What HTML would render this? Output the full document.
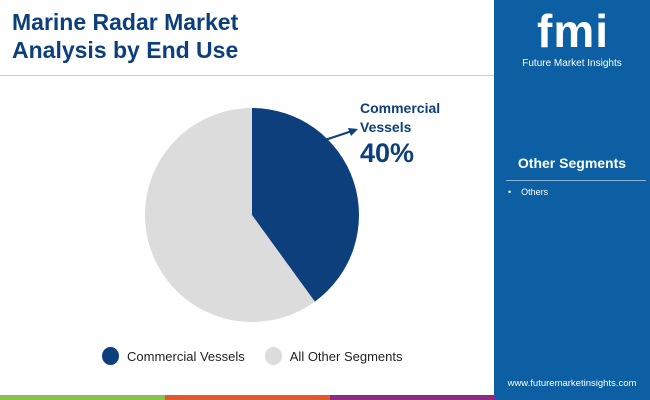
<!DOCTYPE html>
<html><head><meta charset="utf-8"><style>
body{margin:0;width:650px;height:400px;overflow:hidden;background:#fff;font-family:"Liberation Sans",sans-serif;position:relative}
.abs{position:absolute}
</style></head><body>
<div class="abs" style="left:12px;top:8px;font-size:23px;font-weight:bold;color:#0c3f7c;line-height:28px">Marine Radar Market<br>Analysis by End Use</div>
<div class="abs" style="left:0;top:75px;width:494px;height:1px;background:#ccc"></div>
<svg class="abs" style="left:0;top:0" width="494" height="395" id="pie">
<text x="360" y="113" font-size="14" font-weight="bold" fill="#0c3f7c" font-family="Liberation Sans">Commercial</text>
<text x="360" y="132" font-size="14" font-weight="bold" fill="#0c3f7c" font-family="Liberation Sans">Vessels</text>
<text x="360" y="162" font-size="27" font-weight="bold" fill="#0c3f7c" font-family="Liberation Sans" id="pct">40%</text>
<line x1="322" y1="141" x2="352" y2="131" stroke="#0c3f7c" stroke-width="2"/>
<polygon points="358,129 348,128 351,136" fill="#0c3f7c"/>
</svg>
<div class="abs" style="left:102px;top:347px;font-size:13px;color:#222;display:flex;align-items:center">
<span style="width:17px;height:18px;border-radius:50%;background:#0c3f7c;display:inline-block;margin-right:8px"></span><span>Commercial Vessels</span>
<span style="width:17px;height:18px;border-radius:50%;background:#dcdcdc;display:inline-block;margin:0 8px 0 20px"></span><span>All Other Segments</span>
</div>
<div class="abs" style="left:494px;top:0;width:156px;height:400px;background:#0d5fa3">
<div style="position:absolute;left:24px;top:6px;width:110px;text-align:center;color:#fff;font-size:46px;font-weight:bold;line-height:50px;letter-spacing:1px">fmi</div>
<div style="position:absolute;left:0;top:58px;width:156px;text-align:center;color:#fff;font-size:10px">Future Market Insights</div>
<div style="position:absolute;left:0;top:155px;width:156px;text-align:center;color:#fff;font-size:14px;font-weight:bold">Other Segments</div>
<div style="position:absolute;left:12px;top:180px;width:140px;height:1px;background:#8fb3d6"></div>
<div style="position:absolute;left:14px;top:187px;color:#fff;font-size:9px">•&nbsp;&nbsp;&nbsp;&nbsp;Others</div>
<div style="position:absolute;left:0;top:378px;width:156px;text-align:center;color:#fff;font-size:9.5px">www.futuremarketinsights.com</div>
</div>
<div class="abs" style="left:0;top:395px;width:165px;height:5px;background:#8bc34a"></div>
<div class="abs" style="left:165px;top:395px;width:165px;height:5px;background:#e05a2b"></div>
<div class="abs" style="left:330px;top:395px;width:165px;height:5px;background:#8e2a85"></div>
<script>
const categories=["Commercial Vessels","All Other Segments"];
const values=[40,60];
const colors=["#0c3f7c","#dcdcdc"];
const svg=document.getElementById('pie');
const cx=252,cy=215,r=107;
const total=values.reduce((a,b)=>a+b,0);
let ang=-Math.PI/2;
values.forEach((v,i)=>{
 const a2=ang+v/total*2*Math.PI;
 const x1=cx+r*Math.cos(ang),y1=cy+r*Math.sin(ang),x2=cx+r*Math.cos(a2),y2=cy+r*Math.sin(a2);
 const large=(a2-ang)>Math.PI?1:0;
 const p=document.createElementNS("http://www.w3.org/2000/svg","path");
 p.setAttribute("d",`M${cx},${cy}L${x1},${y1}A${r},${r} 0 ${large} 1 ${x2},${y2}Z`);
 p.setAttribute("fill",colors[i]);
 
 
 svg.insertBefore(p,svg.firstChild);
 ang=a2;
});
document.getElementById('pct').textContent=values[0]+"%";
</script>
</body></html>
